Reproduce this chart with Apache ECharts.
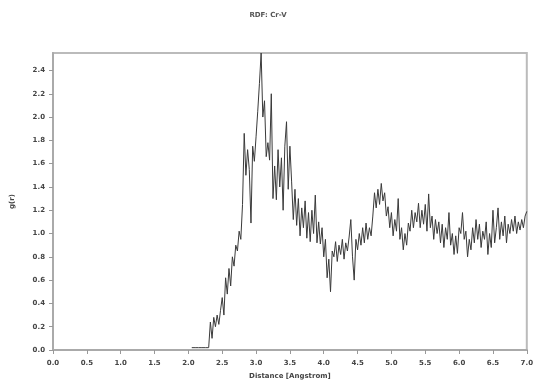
<!DOCTYPE html>
<html><head><meta charset="utf-8">
<script src="https://cdn.jsdelivr.net/npm/echarts@6/dist/echarts.min.js"></script>
<style>html,body{margin:0;padding:0;background:#fff}#c{width:536px;height:385px}</style>
</head><body><div id="c"></div>
<script>
const titleText = "RDF: Cr-V";
const xName = "Distance [Angstrom]";
const yName = "g(r)";
const distance = [2.050,2.075,2.100,2.125,2.150,2.175,2.200,2.225,2.250,2.275,2.300,2.325,2.350,2.375,2.400,2.425,2.450,2.475,2.500,2.525,2.550,2.575,2.600,2.625,2.650,2.675,2.700,2.725,2.750,2.775,2.800,2.825,2.850,2.875,2.900,2.925,2.950,2.975,3.000,3.025,3.050,3.075,3.100,3.125,3.150,3.175,3.200,3.225,3.250,3.275,3.300,3.325,3.350,3.375,3.400,3.425,3.450,3.475,3.500,3.525,3.550,3.575,3.600,3.625,3.650,3.675,3.700,3.725,3.750,3.775,3.800,3.825,3.850,3.875,3.900,3.925,3.950,3.975,4.000,4.025,4.050,4.075,4.100,4.125,4.150,4.175,4.200,4.225,4.250,4.275,4.300,4.325,4.350,4.375,4.400,4.425,4.450,4.475,4.500,4.525,4.550,4.575,4.600,4.625,4.650,4.675,4.700,4.725,4.750,4.775,4.800,4.825,4.850,4.875,4.900,4.925,4.950,4.975,5.000,5.025,5.050,5.075,5.100,5.125,5.150,5.175,5.200,5.225,5.250,5.275,5.300,5.325,5.350,5.375,5.400,5.425,5.450,5.475,5.500,5.525,5.550,5.575,5.600,5.625,5.650,5.675,5.700,5.725,5.750,5.775,5.800,5.825,5.850,5.875,5.900,5.925,5.950,5.975,6.000,6.025,6.050,6.075,6.100,6.125,6.150,6.175,6.200,6.225,6.250,6.275,6.300,6.325,6.350,6.375,6.400,6.425,6.450,6.475,6.500,6.525,6.550,6.575,6.600,6.625,6.650,6.675,6.700,6.725,6.750,6.775,6.800,6.825,6.850,6.875,6.900,6.925,6.950,6.975,7.000];
const rdf = [0.02,0.03,0.02,0.03,0.02,0.03,0.02,0.03,0.02,0.03,0.02,0.24,0.10,0.28,0.20,0.30,0.22,0.34,0.45,0.30,0.62,0.48,0.70,0.55,0.80,0.72,0.90,0.85,1.02,0.95,1.25,1.86,1.50,1.72,1.55,1.09,1.75,1.62,1.83,2.05,2.29,2.55,2.00,2.14,1.66,1.78,1.63,2.20,1.30,1.58,1.29,1.72,1.40,1.65,1.20,1.75,1.96,1.38,1.75,1.45,1.12,1.38,1.07,1.30,0.98,1.22,1.05,1.28,0.96,1.18,0.93,1.20,1.00,1.33,0.92,1.10,0.91,1.05,0.80,0.95,0.62,0.78,0.50,0.85,0.80,0.93,0.76,0.90,0.82,0.95,0.78,0.92,0.85,0.97,1.12,0.80,0.60,0.95,0.86,1.00,0.90,1.05,0.92,1.09,0.95,1.05,0.98,1.15,1.35,1.22,1.38,1.25,1.43,1.28,1.35,1.15,1.23,1.05,1.18,0.98,1.12,1.02,1.30,0.95,1.05,0.86,1.00,0.90,1.09,1.02,1.20,1.05,1.18,1.10,1.26,1.05,1.20,1.08,1.25,1.02,1.34,1.05,1.15,0.95,1.12,1.00,1.10,0.92,1.08,0.88,1.05,0.95,1.18,0.90,1.00,0.82,0.98,0.83,1.05,1.00,1.18,0.95,1.02,0.80,0.95,0.86,1.05,0.92,1.12,0.95,1.08,0.88,1.02,0.95,1.10,0.82,1.00,0.88,1.20,0.92,1.05,1.22,0.95,1.10,0.98,1.15,0.92,1.08,1.00,1.12,1.02,1.15,1.00,1.10,1.03,1.12,1.05,1.15,1.19];
const xMin = 0, xMax = 7, xStep = 0.5;
const yMin = 0, yMax = 2.55, yStep = 0.2;

const chart = echarts.init(document.getElementById('c'));
const axisCommon = {
  axisLine: {show: true, lineStyle: {color: '#aaaaaa', width: 2}},
  axisTick: {show: true, length: 4, lineStyle: {color: '#999999', width: 1}},
  splitLine: {show: false},
  axisLabel: {color: '#444', fontSize: 7, fontWeight: 'bold', fontFamily: 'DejaVu Sans', formatter: v => v.toFixed(1)},
  nameTextStyle: {color: '#444', fontSize: 7, fontWeight: 'bold', fontFamily: 'DejaVu Sans'}
};
chart.setOption({
  animation: false,
  title: {text: titleText, left: 'center', top: 7, textStyle: {fontSize: 7, fontWeight: 'bold', color: '#555', fontFamily: 'DejaVu Sans'}},
  grid: {left: 53, right: 7, top: 53, bottom: 34, show: true, borderColor: '#bbbbbb', borderWidth: 2},
  xAxis: Object.assign({}, axisCommon, {type: 'value', min: xMin, max: xMax, interval: xStep, name: xName, nameLocation: 'middle', nameGap: 23,
    axisLabel: Object.assign({}, axisCommon.axisLabel, {margin: 10})}),
  yAxis: Object.assign({}, axisCommon, {type: 'value', min: yMin, max: yMax, interval: yStep, name: yName, nameLocation: 'middle', nameGap: 37, nameRotate: 90,
    axisLabel: Object.assign({}, axisCommon.axisLabel, {showMaxLabel: false, margin: 8})}),
  series: [{type: 'line', data: distance.map((d, i) => [d, rdf[i]]), showSymbol: false, lineStyle: {color: '#3a3a3a', width: 1}}]
});
</script></body></html>
